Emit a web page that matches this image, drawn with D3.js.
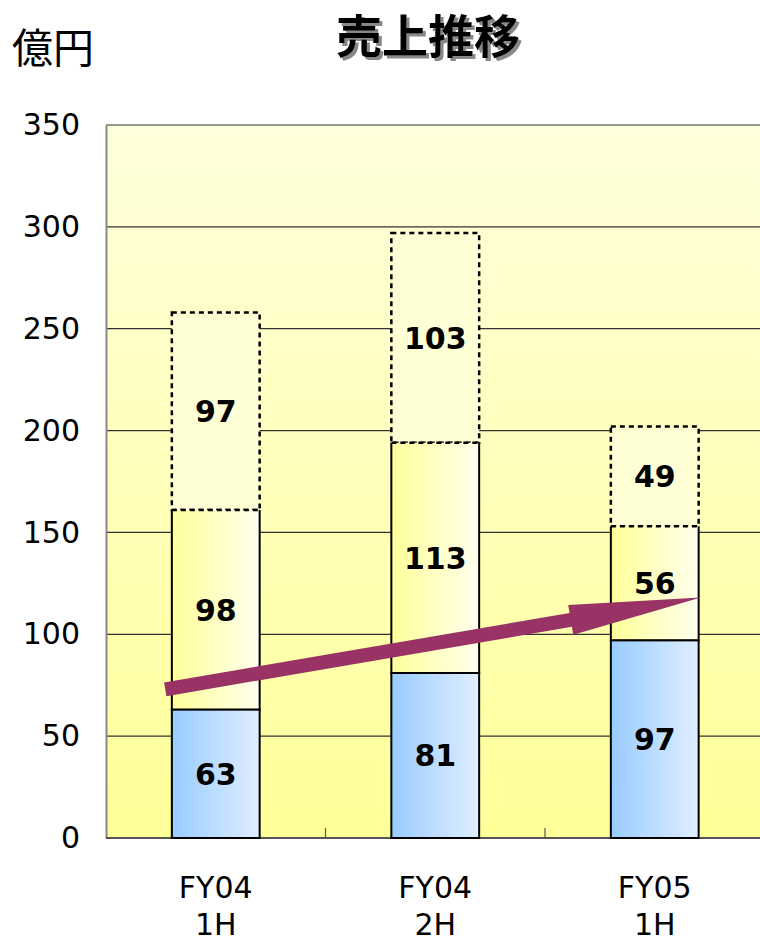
<!DOCTYPE html>
<html>
<head>
<meta charset="utf-8">
<script src="https://cdn.jsdelivr.net/npm/d3@7"></script>
<style>
  html, body { margin: 0; padding: 0; background: #ffffff; }
  svg { display: block; }
</style>
</head>
<body>
<svg id="chart" width="760" height="940"></svg>
<script>
// Half-year sales (億円), stacked in three parts per period
const categories = ["FY04 1H", "FY04 2H", "FY05 1H"];
const categoryLines = [["FY04", "1H"], ["FY04", "2H"], ["FY05", "1H"]];
const baseValues = [63, 81, 97];      // blue segment
const middleValues = [98, 113, 56];   // yellow segment
const upperValues = [97, 103, 49];    // dashed outline segment
const yTicks = [0, 50, 100, 150, 200, 250, 300, 350];
const yMax = 350;
// Trend arrow, in band units along x and sales values along y
const trendFrom = { pos: 0.27, value: 73 };
const trendTo = { pos: 2.71, value: 118 };

const title = "売上推移";
const unitLabel = "億円";

const svg = d3.select("#chart");
const plot = { left: 106, right: 764.5, top: 125, bottom: 838 };
const axisFont = "'DejaVu Sans', Verdana, sans-serif";

const x = d3.scaleBand()
  .domain(categories)
  .range([plot.left, plot.right])
  .paddingInner(0.6)
  .paddingOuter(0.3);

const y = d3.scaleLinear().domain([0, yMax]).range([plot.bottom, plot.top]);

// band-unit scale for positions between categories
const xPos = d3.scaleLinear().domain([0, categories.length]).range([plot.left, plot.right]);

const defs = svg.append("defs");

const bg = defs.append("linearGradient").attr("id", "bgGrad")
  .attr("x1", 0).attr("y1", 0).attr("x2", 0).attr("y2", 1);
bg.append("stop").attr("offset", "0%").attr("stop-color", "#ffffdc");
bg.append("stop").attr("offset", "100%").attr("stop-color", "#ffff99");

const blue = defs.append("linearGradient").attr("id", "blueGrad")
  .attr("x1", 0).attr("y1", 0).attr("x2", 1).attr("y2", 0);
blue.append("stop").attr("offset", "0%").attr("stop-color", "#99ccff");
blue.append("stop").attr("offset", "100%").attr("stop-color", "#e0eeff");

const yellow = defs.append("linearGradient").attr("id", "yellowGrad")
  .attr("x1", 0).attr("y1", 0).attr("x2", 1).attr("y2", 0);
yellow.append("stop").attr("offset", "0%").attr("stop-color", "#ffff99");
yellow.append("stop").attr("offset", "100%").attr("stop-color", "#ffffee");

const shadow = defs.append("filter").attr("id", "titleShadow")
  .attr("x", "-10%").attr("y", "-20%").attr("width", "130%").attr("height", "150%");
shadow.append("feDropShadow")
  .attr("dx", 3).attr("dy", 3).attr("stdDeviation", 0.6)
  .attr("flood-color", "#888888").attr("flood-opacity", 1);

// plot background
svg.append("rect")
  .attr("x", plot.left).attr("y", plot.top)
  .attr("width", plot.right - plot.left).attr("height", plot.bottom - plot.top)
  .attr("fill", "url(#bgGrad)");

// gridlines
svg.append("g")
  .selectAll("line")
  .data(yTicks.filter(d => d > 0))
  .join("line")
  .attr("x1", plot.left).attr("x2", plot.right)
  .attr("y1", d => y(d)).attr("y2", d => y(d))
  .attr("stroke", "#333333").attr("stroke-width", 1.2);

// y axis
const yAxis = d3.axisLeft(y).tickValues(yTicks).tickSize(0).tickPadding(26);
const gy = svg.append("g").attr("transform", `translate(${plot.left},0)`).call(yAxis);
gy.select(".domain").attr("stroke", "#888888").attr("stroke-width", 2);
gy.selectAll("text")
  .attr("font-family", axisFont)
  .attr("font-size", 30)
  .attr("fill", "#000");

// x axis line with ticks between categories
svg.append("line")
  .attr("x1", plot.left).attr("x2", plot.right)
  .attr("y1", plot.bottom).attr("y2", plot.bottom)
  .attr("stroke", "#555555").attr("stroke-width", 2);
svg.append("g")
  .selectAll("line")
  .data(d3.range(1, categories.length))
  .join("line")
  .attr("x1", d => xPos(d)).attr("x2", d => xPos(d))
  .attr("y1", plot.bottom).attr("y2", plot.bottom - 10)
  .attr("stroke", "#555555").attr("stroke-width", 1.2);

// x labels, two lines per category
const xl = svg.append("g")
  .selectAll("text")
  .data(categories)
  .join("text")
  .attr("x", d => x(d) + x.bandwidth() / 2)
  .attr("text-anchor", "middle")
  .attr("font-family", axisFont)
  .attr("font-size", 30)
  .attr("fill", "#000");
xl.each(function (d, i) {
  const t = d3.select(this);
  categoryLines[i].forEach((line, k) => {
    t.append("tspan")
      .attr("x", x(d) + x.bandwidth() / 2)
      .attr("y", 898 + k * 37)
      .text(line);
  });
});

// stacked bars
const bars = categories.map((c, i) => {
  const b1 = baseValues[i];
  const m1 = b1 + middleValues[i];
  const u1 = m1 + upperValues[i];
  return { c, segs: [
    { lo: 0, hi: b1, v: baseValues[i] },
    { lo: b1, hi: m1, v: middleValues[i] },
    { lo: m1, hi: u1, v: upperValues[i] }
  ]};
});

const barG = svg.append("g");
bars.forEach(b => {
  const x0 = x(b.c), w = x.bandwidth();
  const [base, mid, up] = b.segs;
  // dashed upper part
  barG.append("rect")
    .attr("x", x0).attr("y", y(up.hi))
    .attr("width", w).attr("height", y(up.lo) - y(up.hi))
    .attr("fill", "#ffffd6")
    .attr("stroke", "#000").attr("stroke-width", 2.5)
    .attr("stroke-dasharray", "5,4");
  // yellow middle part
  barG.append("rect")
    .attr("x", x0).attr("y", y(mid.hi))
    .attr("width", w).attr("height", y(mid.lo) - y(mid.hi))
    .attr("fill", "url(#yellowGrad)");
  barG.append("path")
    .attr("d", `M${x0},${y(mid.hi)}V${y(mid.lo)}H${x0 + w}V${y(mid.hi)}`)
    .attr("fill", "none").attr("stroke", "#000").attr("stroke-width", 2);
  barG.append("line")
    .attr("x1", x0).attr("x2", x0 + w)
    .attr("y1", y(mid.hi)).attr("y2", y(mid.hi))
    .attr("stroke", "#000").attr("stroke-width", 2.5)
    .attr("stroke-dasharray", "5,4");
  // blue base part
  barG.append("rect")
    .attr("x", x0).attr("y", y(base.hi))
    .attr("width", w).attr("height", y(base.lo) - y(base.hi))
    .attr("fill", "url(#blueGrad)")
    .attr("stroke", "#000").attr("stroke-width", 2);
});

// trend arrow
const ax0 = xPos(trendFrom.pos), ay0 = y(trendFrom.value);
const ax1 = xPos(trendTo.pos), ay1 = y(trendTo.value);
const len = Math.hypot(ax1 - ax0, ay1 - ay0);
const ux = (ax1 - ax0) / len, uy = (ay1 - ay0) / len;
const nx = -uy, ny = ux;
const shaftHalf = 7, headHalf = 15, headLen = 132;
const bx = ax1 - ux * headLen, by = ay1 - uy * headLen;
const arrowPts = [
  [ax0 + nx * shaftHalf, ay0 + ny * shaftHalf],
  [bx + nx * shaftHalf, by + ny * shaftHalf],
  [bx + nx * headHalf, by + ny * headHalf],
  [ax1, ay1],
  [bx - nx * headHalf, by - ny * headHalf],
  [bx - nx * shaftHalf, by - ny * shaftHalf],
  [ax0 - nx * shaftHalf, ay0 - ny * shaftHalf]
];
svg.append("path")
  .attr("d", d3.line()(arrowPts) + "Z")
  .attr("fill", "#993366");

// segment value labels
const labG = svg.append("g");
bars.forEach(b => {
  b.segs.forEach(s => {
    labG.append("text")
      .attr("x", x(b.c) + x.bandwidth() / 2)
      .attr("y", y((s.lo + s.hi) / 2))
      .attr("dy", "0.36em")
      .attr("text-anchor", "middle")
      .attr("font-family", "'DejaVu Sans', Verdana, sans-serif")
      .attr("font-weight", "bold")
      .attr("font-size", 30)
      .attr("fill", "#000")
      .text(s.v);
  });
});

// title with drop shadow
svg.append("text")
  .attr("x", 428).attr("y", 53)
  .attr("text-anchor", "middle")
  .attr("font-family", "'Noto Sans CJK JP', sans-serif")
  .attr("font-weight", "bold")
  .attr("font-size", 46)
  .attr("fill", "#000")
  .attr("filter", "url(#titleShadow)")
  .text(title);

// unit label
svg.append("text")
  .attr("x", 12).attr("y", 63)
  .attr("font-family", "'Noto Sans CJK JP', sans-serif")
  .attr("font-size", 41)
  .attr("fill", "#000")
  .text(unitLabel);
</script>
</body>
</html>
